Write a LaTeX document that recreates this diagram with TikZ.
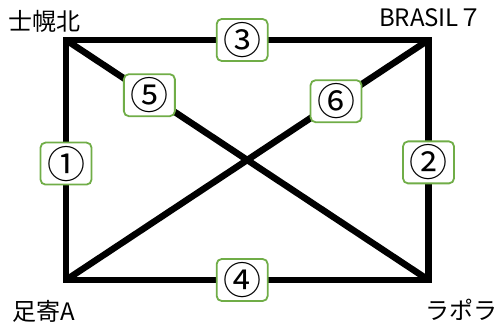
\documentclass[tikz,border=0pt]{standalone}
\usepackage{fontspec}
\setmainfont{Noto Sans CJK JP}
\definecolor{boxgreen}{HTML}{70AD47}
\begin{document}
\begin{tikzpicture}[x=1pt,y=-1pt,
  road/.style={line width=6.5pt,line join=miter},
  numbox/.style={draw=boxgreen,line width=1.8pt,fill=white,rounded corners=5pt,
    minimum width=51pt,minimum height=42pt,inner sep=0pt,font=\fontsize{38}{38}\selectfont},
  place/.style={inner sep=0pt,font=\fontsize{24}{24}\selectfont}]
   \useasboundingbox (0,0) rectangle (497,328);
   \coordinate (sh) at ( 66,40);
   \coordinate (br) at (428.5,40);
   \coordinate (ra) at (428.5,280);
   \coordinate (as) at ( 66,280);
   \draw[road] (sh) -- node[numbox,pos=.486] (n3) {③} (br)
               -- node[numbox,pos=.51] (n2) {②} (ra)
               -- node[numbox,pos=.514] (n4) {④} (as)
               -- node[numbox,pos=.485] (n1) {①} cycle;
   \draw[road] (sh) -- node[numbox,pos=.23] (n5) {⑤} (ra);
   \draw[road] (as) -- node[numbox,pos=.745] (n6) {⑥} (br);
   \node[place] (shl) at ( 45,21) {士幌北};
   \node[place] (brl) at (431,18) {BRASIL７};
   \node[place] (asl) at ( 44,311) {足寄A};
   \node[place] (ral) at (461,310) {ラポラ};
\end{tikzpicture}
\end{document}
